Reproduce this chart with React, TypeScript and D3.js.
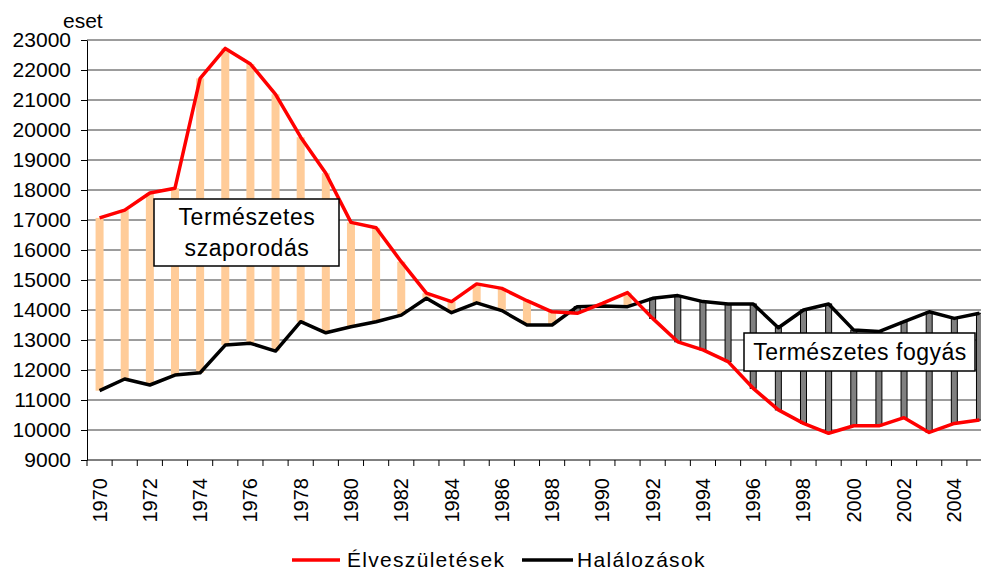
import React, { useRef, useEffect } from 'react';
import * as d3 from 'd3';

const years = [
  1970, 1971, 1972, 1973, 1974, 1975, 1976, 1977, 1978, 1979, 1980, 1981,
  1982, 1983, 1984, 1985, 1986, 1987, 1988, 1989, 1990, 1991, 1992, 1993,
  1994, 1995, 1996, 1997, 1998, 1999, 2000, 2001, 2002, 2003, 2004, 2005,
];

// Élveszületések
const births = [
  17070, 17330, 17900, 18060, 21720, 22720, 22200, 21190, 19760, 18560, 16920, 16740,
  15610, 14560, 14280, 14870, 14720, 14310, 13940, 13890, 14220, 14580, 13720, 12940,
  12670, 12280, 11390, 10670, 10220, 9890, 10140, 10140, 10410, 9920, 10220, 10330,
];

// Halálozások
const deaths = [
  11310, 11700, 11500, 11830, 11910, 12830, 12890, 12630, 13610, 13240, 13440, 13610,
  13830, 14390, 13910, 14240, 13980, 13500, 13500, 14110, 14130, 14110, 14390, 14480,
  14280, 14200, 14200, 13410, 14000, 14200, 13330, 13280, 13610, 13940, 13720, 13890,
];

const yTicks = [
  9000, 10000, 11000, 12000, 13000, 14000, 15000, 16000, 17000, 18000, 19000, 20000,
  21000, 22000, 23000,
];

const xLabels = [
  1970, 1972, 1974, 1976, 1978, 1980, 1982, 1984, 1986, 1988, 1990, 1992, 1994, 1996,
  1998, 2000, 2002, 2004,
];

const FONT = '"Liberation Sans", Arial, sans-serif';

const Chart = () => {
  const svgRef = useRef<SVGSVGElement | null>(null);

  useEffect(() => {
    const W = 981;
    const H = 570;
    const left = 87;
    const top = 40;
    const bottom = 460;
    const step = 25.14;

    const svg = d3.select(svgRef.current);
    svg.selectAll('*').remove();
    svg.attr('width', W).attr('height', H);

    const x = d3.scaleBand<number>()
      .domain(years)
      .range([left, left + step * years.length])
      .padding(0);

    const y = d3.scaleLinear()
      .domain([9000, 23000])
      .range([bottom, top]);

    const cx = (yr: number) => (x(yr) as number) + x.bandwidth() / 2;

    // gridlines
    svg.append('g')
      .selectAll('line')
      .data(yTicks.filter(t => t !== 9000))
      .enter()
      .append('line')
      .attr('x1', left)
      .attr('x2', W)
      .attr('y1', d => y(d))
      .attr('y2', d => y(d))
      .attr('stroke', '#3a3a3a')
      .attr('stroke-width', 1);

    // bars between the two series
    svg.append('g')
      .selectAll('rect')
      .data(years)
      .enter()
      .append('rect')
      .attr('x', (d, i) => cx(d) - (births[i] >= deaths[i] ? 4 : 3))
      .attr('width', (d, i) => (births[i] >= deaths[i] ? 8 : 6))
      .attr('y', (d, i) => y(Math.max(births[i], deaths[i])))
      .attr('height', (d, i) => Math.abs(y(births[i]) - y(deaths[i])))
      .attr('fill', (d, i) => (births[i] >= deaths[i] ? '#FFCC99' : '#808080'))
      .attr('stroke', (d, i) => (births[i] >= deaths[i] ? 'none' : '#000'))
      .attr('stroke-width', 1);

    // lines
    const line = d3.line<number>()
      .x((d, i) => cx(years[i]))
      .y(d => y(d));

    svg.append('path')
      .datum(deaths)
      .attr('d', line)
      .attr('fill', 'none')
      .attr('stroke', '#000')
      .attr('stroke-width', 3.5)
      .attr('stroke-linejoin', 'round');

    svg.append('path')
      .datum(births)
      .attr('d', line)
      .attr('fill', 'none')
      .attr('stroke', '#FF0000')
      .attr('stroke-width', 3.5)
      .attr('stroke-linejoin', 'round');

    // y axis
    const yAxis = svg.append('g')
      .attr('transform', `translate(${left},0)`)
      .call(d3.axisLeft(y).tickValues(yTicks).tickSize(6).tickSizeOuter(0).tickPadding(10).tickFormat(d3.format('d')));
    yAxis.select('.domain').attr('stroke', '#000');
    yAxis.selectAll('line').attr('stroke', '#000');
    yAxis.selectAll('text')
      .attr('font-family', FONT)
      .attr('font-size', 21)
      .attr('fill', '#000');

    // x axis
    const xAxis = svg.append('g');
    xAxis.append('line')
      .attr('x1', left)
      .attr('x2', W)
      .attr('y1', bottom)
      .attr('y2', bottom)
      .attr('stroke', '#000');
    xAxis.selectAll('.tick')
      .data(years)
      .enter()
      .append('line')
      .attr('class', 'tick')
      .attr('x1', d => x(d) as number)
      .attr('x2', d => x(d) as number)
      .attr('y1', bottom)
      .attr('y2', bottom + 6)
      .attr('stroke', '#000');
    xAxis.selectAll('.lbl')
      .data(xLabels)
      .enter()
      .append('text')
      .attr('class', 'lbl')
      .attr('transform', d => `translate(${cx(d)},${bottom + 18}) rotate(-90)`)
      .attr('text-anchor', 'end')
      .attr('dy', '0.35em')
      .attr('font-family', FONT)
      .attr('font-size', 20)
      .text(d => d);

    // unit label
    svg.append('text')
      .attr('x', 63)
      .attr('y', 28)
      .attr('font-family', FONT)
      .attr('font-size', 21)
      .text('eset');

    // annotation boxes
    const box1 = svg.append('g');
    box1.append('rect')
      .attr('x', 154).attr('y', 199).attr('width', 185).attr('height', 67)
      .attr('fill', '#fff').attr('stroke', '#000').attr('stroke-width', 1.5);
    box1.append('text')
      .attr('x', 247).attr('y', 225)
      .attr('text-anchor', 'middle')
      .attr('font-family', FONT).attr('font-size', 23).attr('letter-spacing', 0.6)
      .text('Természetes');
    box1.append('text')
      .attr('x', 247).attr('y', 256)
      .attr('text-anchor', 'middle')
      .attr('font-family', FONT).attr('font-size', 23).attr('letter-spacing', 0.6)
      .text('szaporodás');

    const box2 = svg.append('g');
    box2.append('rect')
      .attr('x', 744).attr('y', 333).attr('width', 231).attr('height', 38)
      .attr('fill', '#fff').attr('stroke', '#000').attr('stroke-width', 1.5);
    box2.append('text')
      .attr('x', 860).attr('y', 360)
      .attr('text-anchor', 'middle')
      .attr('font-family', FONT).attr('font-size', 23).attr('letter-spacing', 0.5)
      .text('Természetes fogyás');

    // legend
    const legend = svg.append('g');
    legend.append('line')
      .attr('x1', 292).attr('x2', 340).attr('y1', 560).attr('y2', 560)
      .attr('stroke', '#FF0000').attr('stroke-width', 3.5);
    legend.append('text')
      .attr('x', 347).attr('y', 567)
      .attr('font-family', FONT).attr('font-size', 21).attr('letter-spacing', 1.3)
      .text('Élveszületések');
    legend.append('line')
      .attr('x1', 522).attr('x2', 573).attr('y1', 560).attr('y2', 560)
      .attr('stroke', '#000').attr('stroke-width', 3.5);
    legend.append('text')
      .attr('x', 577).attr('y', 567)
      .attr('font-family', FONT).attr('font-size', 21).attr('letter-spacing', 1.3)
      .text('Halálozások');
  }, []);

  return <svg ref={svgRef} style={{ position: 'absolute', left: 0, top: 0, display: 'block', background: '#fff' }}></svg>;
};

export default function App() {
  return <Chart />;
}
